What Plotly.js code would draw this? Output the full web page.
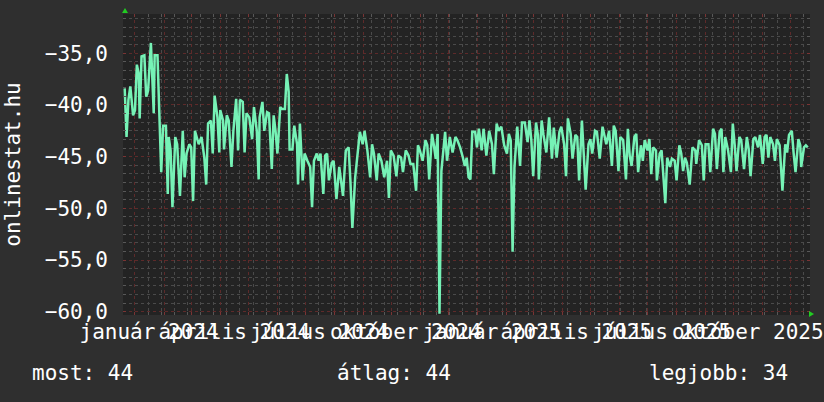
<!DOCTYPE html>
<html>
<head>
<meta charset="utf-8">
<script src="https://cdn.plot.ly/plotly-3.0.1.min.js"></script>
<style>
html,body{margin:0;padding:0;background:#2f2f2f;}
#chart{width:824px;height:402px;}
</style>
</head>
<body>
<div id="chart"></div>
<script>
// ---- data ----
const startDate = '2024-01-01';
const xRangeStart = '2023-12-19 05:00';
const xRangeEnd = '2025-12-21 10:00';

// days after startDate
const dayOffset = [
  -11,-9,-7,-5,-2,0,2,4,5,7,10,12,14,17,20,21,24,26,28,30,
  33,35,36,38,40,43,45,48,51,53,55,58,60,62,64,68,71,74,76,78,
  81,83,85,88,90,91,94,95,98,100,103,105,108,110,112,115,117,119,122,125,
  127,130,132,133,136,138,141,143,146,148,150,152,155,157,160,162,164,165,168,170,
  173,174,
  176,179,181,184,187,189,191,194,196,198,
  201,203,205,207,210,212,215,218,220,222,
  225,228,230,232,235,237,240,243,245,248,
  251,253,255,258,260,263,266,269,271,273,
  276,279,281,284,286,289,292,294,297,300,
  302,304,307,310,312,314,317,319,321,323,
  325,327,331,333,336,339,342,344,347,350,
  352,354,356,358,360,363,365,367,370,372,
  375,378,381,383,386,388,391,394,397,399,
  401,403,405,408,411,413,416,419,421,423,
  425,428,430,431,434,436,439,442,
  445,447,450,453,455,458,460,462,465,467,
  470,472,474,477,479,481,484,486,488,491,
  493,496,499,501,503,506,509,511,513,516,
  518,521,524,526,528,530,533,535,537,540,
  542,544,547,549,551,553,556,557,560,562,
  564,566,568,571,573,576,578,581,583,585,
  587,589,592,595,598,599,602,605,607,609,
  612,614,617,619,621,624,626,628,630,633,
  636,638,640,642,645,647,650,653,655,657,
  660,662,665,667,670,672,674,676,678,681,
  683,685,688,691,694,696,698,701,703,705,
  708,710,711,714,716,718
];

const values = [
  -38.4,-43.1,-39.5,-38.2,-41.0,-40.5,-36.1,-37.0,-41.3,-35.3,-35.2,-39.2,-38.6,-34.0,-40.8,-35.2,-35.2,-41.3,-46.5,-42.0,
  -42.0,-48.6,-43.1,-44.4,-49.9,-43.1,-43.8,-48.8,-42.5,-47.0,-44.7,-43.8,-44.1,-49.3,-42.5,-43.8,-43.1,-45.1,-47.7,-41.8,
  -41.5,-44.7,-39.1,-41.2,-44.6,-40.5,-41.5,-44.3,-41.0,-41.5,-46.0,-42.5,-39.4,-44.4,-39.5,-39.7,-44.6,-40.8,-41.2,-43.3,
  -40.2,-42.5,-47.2,-41.2,-39.7,-42.5,-40.7,-40.8,-46.2,-41.0,-42.5,-44.7,-40.2,-40.4,-40.4,-37.0,-38.7,-44.3,-44.3,-42.0,
  -43.8,-47.7,
  -41.8,-47.3,-44.7,-45.4,-46.0,-49.9,-45.4,-44.7,-45.4,-44.7,
  -48.6,-44.9,-44.7,-47.3,-45.6,-45.4,-49.1,-46.0,-47.2,-48.8,
  -44.4,-44.1,-47.5,-51.9,-47.0,-45.4,-42.6,-43.8,-42.5,-44.4,
  -47.0,-43.8,-44.7,-47.3,-44.7,-45.4,-47.0,-45.4,-49.0,-44.4,
  -44.9,-46.9,-44.9,-45.1,-46.5,-44.4,-44.9,-45.7,-45.7,-48.3,
  -43.9,-44.4,-45.4,-43.4,-43.9,-47.2,-42.8,-43.9,-45.2,-42.8,
  -60.2,-46.4,-42.6,-45.4,-43.1,-44.6,-43.1,-43.4,-44.1,-45.1,
  -45.9,-45.1,-47.0,-47.2,-42.6,-42.6,-44.1,-42.3,-44.4,-42.3,
  -44.9,-42.5,-43.8,-46.7,-41.8,-42.5,-42.1,-43.9,-44.7,-42.8,
  -43.4,-54.2,-46.0,-42.1,-45.9,-41.7,-41.7,-43.6,-41.5,-43.4,
  -46.9,-41.7,-42.9,-47.2,-41.5,-42.9,-44.6,-41.2,
  -45.2,-42.2,-45.1,-42.6,-42.1,-43.8,-46.9,-41.3,-42.8,-45.2,
  -42.9,-43.1,-47.3,-41.5,-44.7,-48.2,-43.8,-43.3,-44.7,-42.5,
  -42.6,-45.2,-42.1,-42.9,-43.8,-42.5,-45.9,-42.0,-42.5,-46.4,
  -43.1,-43.4,-47.2,-42.3,-44.9,-45.9,-43.1,-42.8,-46.5,-43.9,
  -45.4,-43.4,-44.4,-43.3,-46.7,-44.1,-44.4,-47.3,-44.7,-44.4,
  -46.9,-49.5,-45.1,-46.0,-45.2,-45.4,-47.3,-43.9,-44.7,-46.4,
  -45.1,-45.6,-47.7,-44.1,-44.4,-45.7,-43.4,-43.9,-47.3,-43.8,
  -43.8,-46.5,-42.3,-42.8,-46.2,-42.6,-42.3,-46.5,-43.1,-44.4,
  -46.5,-41.8,-43.8,-46.4,-43.1,-43.4,-46.2,-43.1,-44.3,-46.9,
  -43.3,-43.1,-44.1,-42.9,-45.7,-43.1,-42.9,-45.1,-43.1,-43.8,
  -45.4,-43.3,-43.9,-48.3,-43.8,-44.6,-42.9,-42.5,-44.7,-46.5,
  -43.3,-43.9,-46.0,-44.1,-43.9,-44.1
];

const labelDates = ['2024-01-16','2024-04-16','2024-07-16','2024-10-16','2025-01-16','2025-04-16','2025-07-16','2025-10-16'];
const labelTexts = ['január 2024','április 2024','július 2024','október 2024','január 2025','április 2025','július 2025','október 2025'];
const yTitle = 'onlinestat.hu';
const summaryTexts = ['most: 44', 'átlag: 44', 'legjobb: 34'];

// ---- build ----
const base = Date.parse(startDate + 'T00:00:00Z');
const xDates = dayOffset.map(d => new Date(base + d * 86400000).toISOString().slice(0, 10));

const FONT = 'DejaVu Sans Mono, monospace';
const FS = 21;

const traces = [
  {
    x: xDates, y: values, type: 'scatter', mode: 'lines',
    line: {color: '#76f2b6', width: 2.5},
    hoverinfo: 'skip', showlegend: false
  },
  {
    x: [xRangeStart], y: [null], type: 'scatter', mode: 'lines',
    xaxis: 'x2', yaxis: 'y', hoverinfo: 'skip', showlegend: false
  }
];

const summaryX = [-0.136, 0.3085, 0.763];
const annotations = summaryTexts.map((t, i) => ({
  text: t, xref: 'paper', yref: 'paper', x: summaryX[i], y: -0.193,
  xanchor: 'left', yanchor: 'middle', showarrow: false,
  font: {family: FONT, size: FS, color: '#ffffff'}
}));

const layout = {
  width: 824, height: 402,
  paper_bgcolor: '#2f2f2f', plot_bgcolor: '#232323',
  margin: {l: 123, r: 14, t: 14, b: 87, pad: 0},
  separators: ', ',
  showlegend: false,
  font: {family: FONT, size: FS, color: '#ffffff'},
  xaxis: {
    type: 'date', range: [xRangeStart, xRangeEnd],
    tick0: startDate, dtick: 'M1',
    showgrid: true, gridcolor: '#5e2a2a', griddash: 'dot', gridwidth: 1,
    showticklabels: false, ticks: 'inside', ticklen: 3, tickcolor: '#7a3434',
    mirror: 'ticks', showline: false, zeroline: false,
    minor: {
      tick0: startDate, dtick: 14 * 86400000,
      showgrid: true, gridcolor: '#4a4a4a', griddash: 'dot', gridwidth: 1,
      ticks: 'inside', ticklen: 3, tickcolor: '#585858'
    }
  },
  xaxis2: {
    type: 'date', overlaying: 'x', anchor: 'y', side: 'bottom',
    range: [xRangeStart, xRangeEnd],
    tickmode: 'array', tickvals: labelDates, ticktext: labelTexts,
    tickangle: 0, showgrid: false, ticks: '', zeroline: false, showline: false,
    ticklabelstandoff: 2,
    tickfont: {family: FONT, size: FS, color: '#ffffff'}
  },
  yaxis: {
    range: [-60.32, -31.2],
    tick0: -60, dtick: 5, tickformat: '.1f',
    showgrid: true, gridcolor: '#5e2a2a', griddash: 'dot', gridwidth: 1,
    ticks: 'inside', ticklen: 3, tickcolor: '#7a3434', mirror: 'ticks',
    zeroline: false, showline: false,
    ticklabelstandoff: 14,
    tickfont: {family: FONT, size: FS, color: '#ffffff'},
    title: {text: yTitle, font: {family: FONT, size: FS, color: '#ffffff'}, standoff: 18},
    minor: {
      tick0: -60, dtick: 5 / 6,
      showgrid: true, gridcolor: '#4a4a4a', griddash: 'dot', gridwidth: 1,
      ticks: 'inside', ticklen: 3, tickcolor: '#585858'
    }
  },
  annotations: annotations,
  shapes: [
    {type: 'path', xref: 'paper', yref: 'paper', xsizemode: 'pixel', ysizemode: 'pixel',
     xanchor: 0, yanchor: 1, path: 'M -1,1 L 5,1 L 2,6 Z',
     fillcolor: '#22cc22', line: {width: 0}},
    {type: 'path', xref: 'paper', yref: 'paper', xsizemode: 'pixel', ysizemode: 'pixel',
     xanchor: 1, yanchor: 0, path: 'M -1,4 L -1,-2 L 4,1 Z',
     fillcolor: '#22cc22', line: {width: 0}}
  ]
};

Plotly.newPlot('chart', traces, layout, {staticPlot: true, displayModeBar: false});
</script>
</body>
</html>
